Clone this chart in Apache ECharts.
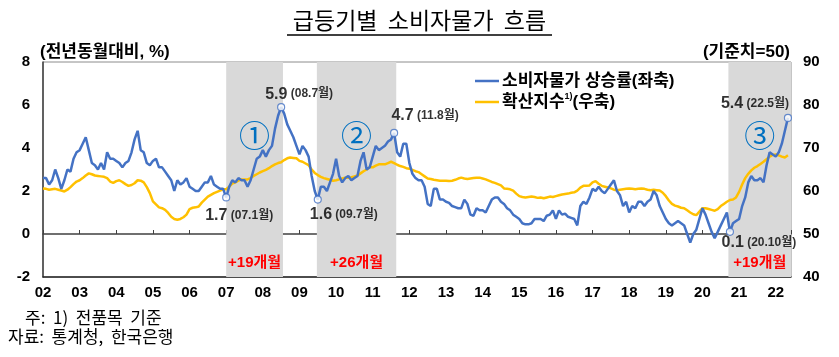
<!DOCTYPE html>
<html><head><meta charset="utf-8">
<script src="https://cdn.jsdelivr.net/npm/echarts@6/dist/echarts.min.js"></script>
<style>html,body{margin:0;padding:0;background:#fff;}#c{width:839px;height:357px;}</style>
</head><body><div id="c"></div>
<script>
// x = month index from Jan 2002 (0) ; ticks every 12 months
const yearLabels = ['02','03','04','05','06','07','08','09','10','11','12','13','14','15','16','17','18','19','20','21','22'];

// 소비자물가 상승률 (전년동월대비, %) — left axis
const cpi = [
  2.6, 2.6, 2.3, 2.5, 3.0, 2.6, 2.1, 2.5, 3.0, 2.9, 3.5, 3.8,   // 2002
  3.9, 4.2, 4.5, 3.9, 3.3, 3.2, 3.0, 3.3, 3.0, 3.8, 3.5, 3.5,   // 2003
  3.4, 3.3, 3.1, 3.3, 3.4, 3.8, 4.4, 4.8, 3.9, 3.8, 3.3, 3.2,   // 2004
  3.4, 3.5, 3.1, 3.1, 2.9, 2.7, 2.5, 2.0, 2.5, 2.3, 2.4, 2.6,   // 2005
  2.2, 2.1, 2.0, 2.0, 2.2, 2.4, 2.4, 2.7, 2.3, 2.2, 2.1, 2.1,   // 2006
  1.7, 2.2, 2.5, 2.4, 2.6, 2.5, 2.5, 2.2, 2.5, 3.0, 3.5, 3.6,   // 2007
  3.9, 3.6, 3.9, 4.1, 4.9, 5.5, 5.9, 5.6, 5.1, 4.8, 4.5, 4.1,   // 2008
  3.7, 4.1, 3.9, 3.6, 2.7, 2.0, 1.6, 2.2, 2.2, 2.0, 2.4, 2.8,   // 2009
  3.5, 2.7, 2.4, 2.6, 2.7, 2.5, 2.6, 2.7, 3.4, 3.8, 3.0, 3.1,   // 2010
  3.6, 4.1, 3.9, 4.0, 4.1, 4.3, 4.4, 4.7, 3.8, 3.6, 4.2, 4.2,   // 2011
  3.3, 2.8, 2.6, 2.5, 2.5, 2.2, 1.4, 1.3, 2.1, 2.1, 1.6, 1.6,   // 2012
  1.5, 1.45, 1.3, 1.25, 1.2, 1.2, 1.6, 1.4, 0.9, 0.85, 1.2, 1.1, // 2013
  1.1, 1.0, 1.3, 1.6, 1.7, 1.7, 1.5, 1.4, 1.2, 1.1, 0.9, 0.8,   // 2014
  0.7, 0.5, 0.45, 0.45, 0.5, 0.7, 0.7, 0.7, 0.6, 0.85, 0.9, 1.1, // 2015
  0.7, 1.1, 0.9, 0.95, 0.8, 0.75, 0.7, 0.4, 1.3, 1.5, 1.4, 1.7, // 2016
  2.1, 2.0, 2.2, 2.0, 1.9, 2.1, 2.3, 2.5, 2.0, 1.8, 1.3, 1.5,   // 2017
  1.0, 1.3, 1.2, 1.5, 1.5, 1.3, 1.5, 1.6, 2.0, 1.8, 1.3, 1.0,   // 2018
  0.7, 0.5, 0.4, 0.5, 0.6, 0.5, 0.4, 0.0, -0.4, 0.0, 0.2, 0.7,  // 2019
  1.2, 0.9, 0.5, 0.1, -0.2, 0.1, 0.4, 0.7, 1.0, 0.1, 0.5, 0.6,  // 2020
  0.7, 1.3, 1.7, 2.4, 2.7, 2.5, 2.5, 2.6, 2.4, 3.2, 3.8, 3.7,   // 2021
  3.6, 3.8, 4.2, 4.8, 5.4                                       // 2022.1~5
];

// 확산지수 (기준치=50) — right axis
const diffusion = [
  60.6, 60.5, 60.3, 60.4, 60.5, 60.3, 60.1, 59.9, 60.3, 60.9, 61.6, 62.2, // 2002
  62.5, 63.0, 63.6, 64.1, 63.9, 63.6, 63.5, 63.4, 63.3, 63.0, 62.2, 61.9, // 2003
  62.3, 62.5, 62.1, 61.6, 61.2, 61.4, 61.8, 62.5, 62.4, 62.0, 60.9, 59.5, // 2004
  57.6, 56.9, 56.2, 56.0, 55.6, 54.9, 54.0, 53.5, 53.3, 53.5, 53.9, 54.5, // 2005
  55.8, 56.1, 56.2, 56.4, 57.3, 58.0, 58.7, 59.1, 59.5, 59.8, 60.1, 60.4, // 2006
  60.4, 61.0, 61.7, 62.0, 62.4, 62.7, 62.7, 62.7, 63.0, 63.5, 63.9, 64.3, // 2007
  64.6, 64.9, 65.3, 65.8, 66.2, 66.5, 66.7, 67.2, 67.6, 67.8, 67.7, 67.6, // 2008
  67.0, 66.8, 66.4, 66.0, 65.0, 64.2, 63.7, 63.3, 63.0, 62.8, 62.6, 62.4, // 2009
  62.5, 62.7, 62.9, 63.1, 63.1, 63.2, 63.4, 63.6, 64.1, 64.6, 65.0, 65.5, // 2010
  65.5, 65.9, 66.2, 66.2, 66.2, 66.5, 66.8, 66.5, 66.1, 65.8, 65.6, 65.3, // 2011
  65.2, 64.9, 64.6, 64.4, 63.9, 63.4, 62.9, 62.8, 62.6, 62.5, 62.4, 62.4, // 2012
  62.4, 62.3, 62.4, 62.6, 62.9, 63.1, 62.9, 62.8, 62.9, 63.0, 63.1, 63.1, // 2013
  62.9, 62.7, 62.4, 62.1, 61.9, 61.6, 61.3, 60.6, 60.5, 60.4, 60.1, 59.4, // 2014
  58.8, 58.6, 58.5, 58.6, 58.7, 58.6, 58.4, 58.5, 58.3, 58.5, 58.7, 58.6, // 2015
  58.8, 59.0, 59.2, 59.3, 59.4, 59.6, 59.7, 60.1, 60.8, 61.2, 61.2, 61.3, // 2016
  62.0, 62.3, 61.7, 61.2, 61.0, 60.8, 60.6, 60.3, 60.2, 60.3, 60.4, 60.5, // 2017
  60.6, 60.5, 60.4, 60.5, 60.6, 60.5, 60.3, 60.2, 60.3, 60.2, 60.1, 59.6, // 2018
  58.8, 57.8, 57.0, 56.6, 56.4, 56.1, 56.0, 55.5, 55.0, 54.6, 54.4, 55.2, // 2019
  56.0, 56.0, 55.8, 55.6, 55.4, 55.8, 56.5, 57.0, 57.5, 57.9, 58.0, 58.5, // 2020
  59.8, 61.5, 63.0, 64.0, 64.8, 65.4, 65.8, 66.3, 66.8, 67.4, 68.0, 68.4, // 2021
  68.5, 68.3, 68.0, 67.8, 68.3                                            // 2022.1~5
];

// highlighted months (month index) and their labels
const markIdx  = [60, 78, 90, 115, 225, 244];
const markText = ['07.1월', '08.7월', '09.7월', '11.8월', '20.10월', '22.5월'];

// rise periods (month index start/end), circled number, duration label
const periods      = [[60, 78.6], [89.7, 115.7], [224.5, 245]];
const periodNums   = ['①', '②', '③'];
const periodLabels = ['+19개월', '+26개월', '+19개월'];

// label offsets (styling only)
const labelOffsets = [[13, 18], [18, -13], [26, 15], [31, -17], [29, 11], [-33, -14]];

const NUMFONT = "'Liberation Sans', Arial, 'Noto Sans CJK KR', sans-serif";
const KFONT = "'Noto Sans CJK KR', 'Liberation Sans', sans-serif";
const BLUE = '#4472C4', ORANGE = '#FFC000';

const chart = echarts.init(document.getElementById('c'));
const yearFmt = v => (v % 12 === 0 && yearLabels[v / 12] !== undefined) ? yearLabels[v / 12] : '';

chart.setOption({
  animation: false,
  textStyle: { fontFamily: NUMFONT },
  grid: { left: 43, right: 48, top: 62, bottom: 80, show: true, borderColor: '#8c8c8c', borderWidth: 1 },
  xAxis: [
    { type: 'value', min: 0, max: 245, interval: 12,
      axisLine: { onZero: true, onZeroAxisIndex: 0, lineStyle: { color: '#404040', width: 1.5 } },
      axisTick: { show: true, inside: true, length: 4, lineStyle: { color: '#404040', width: 1 } },
      axisLabel: { show: false }, splitLine: { show: false } },
    { type: 'value', min: 0, max: 245, interval: 12, position: 'bottom',
      axisLine: { onZero: false, lineStyle: { color: '#262626', width: 1.5 } },
      axisTick: { show: false }, splitLine: { show: false },
      axisLabel: { formatter: yearFmt, margin: 8, color: '#000', fontSize: 15, fontWeight: 'bold', fontFamily: NUMFONT } }
  ],
  yAxis: [
    { type: 'value', min: -2, max: 8, interval: 2,
      axisLine: { show: true, lineStyle: { color: '#404040', width: 1.5 } },
      axisTick: { show: false }, splitLine: { show: false },
      axisLabel: { margin: 13, color: '#000', fontSize: 15, fontWeight: 'bold', fontFamily: NUMFONT } },
    { type: 'value', min: 40, max: 90, interval: 10, position: 'right',
      axisLine: { show: false }, axisTick: { show: false }, splitLine: { show: false },
      axisLabel: { margin: 12, color: '#000', fontSize: 15, fontWeight: 'bold', fontFamily: NUMFONT } }
  ],
  series: [
    { name: '확산지수', type: 'line', xAxisIndex: 0, yAxisIndex: 1, z: 2,
      data: diffusion.map((v, i) => [i, v]), showSymbol: false, symbol: 'none',
      lineStyle: { color: ORANGE, width: 2.5 },
      markArea: { silent: true, itemStyle: { color: '#d9d9d9' },
        data: periods.map((p, k) => [
          { xAxis: p[0], label: { show: true, formatter: periodNums[k], position: ['50%', 73], align: 'center', verticalAlign: 'middle',
              color: '#0070C0', fontSize: 31, fontFamily: KFONT } },
          { xAxis: p[1] }]) } },
    { name: '소비자물가 상승률', type: 'line', xAxisIndex: 0, yAxisIndex: 0, z: 3,
      data: cpi.map((v, i) => [i, v]), showSymbol: false, symbol: 'none',
      lineStyle: { color: BLUE, width: 2.5 },
      markArea: { silent: true, itemStyle: { color: 'rgba(0,0,0,0)' },
        data: periods.map((p, k) => [
          { xAxis: p[0], label: { show: true, formatter: periodLabels[k], position: ['50%', 201], align: 'center', verticalAlign: 'middle',
              color: '#FF0000', fontSize: 15, fontWeight: 'bold', fontFamily: NUMFONT } },
          { xAxis: p[1] }]) } },
    { type: 'scatter', xAxisIndex: 0, yAxisIndex: 0, z: 5, symbol: 'circle', symbolSize: 7,
      itemStyle: { color: '#fff', borderColor: BLUE, borderWidth: 1.2 },
      data: markIdx.map((idx, k) => ({
        value: [idx, cpi[idx]],
        label: { show: true, position: 'inside', offset: labelOffsets[k], align: 'center', verticalAlign: 'middle',
          formatter: '{a|' + cpi[idx].toFixed(1) + '} {b|(' + markText[k] + ')}',
          rich: { a: { fontSize: 16, fontWeight: 'bold', color: '#000', fontFamily: NUMFONT },
                  b: { fontSize: 12, fontWeight: 'bold', color: '#000', fontFamily: NUMFONT } } }
      })) }
  ],
  graphic: [
    { type: 'text', left: 'center', top: 9, style: { text: '급등기별  소비자물가  흐름', fontSize: 23, fontFamily: KFONT, fill: '#000' } },
    { type: 'line', shape: { x1: 287, y1: 35, x2: 552, y2: 35 }, style: { stroke: '#000', lineWidth: 1.3 } },
    { type: 'text', x: 40, y: 52, style: { text: '(전년동월대비, %)', fontSize: 17, fontWeight: 'bold', fontFamily: NUMFONT, fill: '#000', verticalAlign: 'middle' } },
    { type: 'text', x: 790, y: 52, style: { text: '(기준치=50)', fontSize: 17, fontWeight: 'bold', fontFamily: NUMFONT, fill: '#000', align: 'right', verticalAlign: 'middle' } },
    { type: 'line', shape: { x1: 475, y1: 81, x2: 499, y2: 81 }, style: { stroke: BLUE, lineWidth: 2.5 } },
    { type: 'text', x: 502, y: 81, style: { text: '소비자물가 상승률(좌축)', fontSize: 17, fontWeight: 'bold', fontFamily: NUMFONT, fill: '#000', verticalAlign: 'middle' } },
    { type: 'line', shape: { x1: 475, y1: 102, x2: 499, y2: 102 }, style: { stroke: ORANGE, lineWidth: 2.5 } },
    { type: 'text', x: 502, y: 102, style: { text: '{a|확산지수}{s|1)}{a|(우축)}', verticalAlign: 'middle',
        rich: { a: { fontSize: 17, fontWeight: 'bold', fontFamily: NUMFONT, fill: '#000', lineHeight: 20 },
                s: { fontSize: 9, fontWeight: 'bold', fontFamily: NUMFONT, fill: '#000', verticalAlign: 'top', lineHeight: 20 } } } },
    { type: 'text', x: 25, y: 318, style: { text: '주:  1)  전품목  기준', fontSize: 17, fontFamily: KFONT, fill: '#000', verticalAlign: 'middle' } },
    { type: 'text', x: 8, y: 337, style: { text: '자료:  통계청,  한국은행', fontSize: 17, fontFamily: KFONT, fill: '#000', verticalAlign: 'middle' } }
  ]
});
</script>
</body></html>
